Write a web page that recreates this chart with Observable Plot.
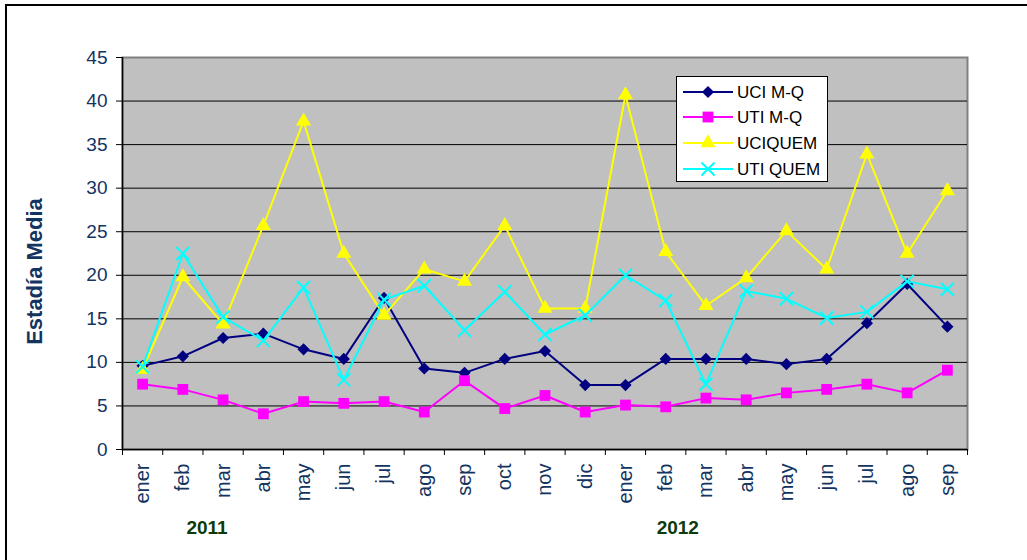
<!DOCTYPE html>
<html><head><meta charset="utf-8">
<script src="https://cdn.jsdelivr.net/npm/d3@7"></script>
<script src="https://cdn.jsdelivr.net/npm/@observablehq/plot@0.6"></script>
<style>
body{margin:0;background:#fff;overflow:hidden;font-family:"Liberation Sans",Arial,sans-serif;}
#wrap{position:relative;width:1027px;height:560px;overflow:hidden;}
#border{position:absolute;left:5px;top:4px;width:1100px;height:700px;border-left:2px solid #000;border-top:2px solid #000;pointer-events:none;z-index:3}
#legend{position:absolute;left:676px;top:76px;width:150px;height:104px;background:#fff;border:1px solid #000;z-index:2}
#chart{position:absolute;left:0;top:0;}
</style></head><body>
<div id="wrap"><div id="border"></div><div id="chart"></div><div id="legend"></div></div>
<script>
// ---- data ----
const months = ["ener","feb","mar","abr","may","jun","jul","ago","sep","oct","nov","dic",
                "ener","feb","mar","abr","may","jun","jul","ago","sep"];
const years = ["2011", "2012"];
const seriesNames = ["UCI M-Q", "UTI M-Q", "UCIQUEM", "UTI QUEM"];
const uciMQ   = [9.6, 10.7, 12.8, 13.3, 11.5, 10.4, 17.4, 9.3, 8.8, 10.4, 11.3, 7.4, 7.4, 10.4, 10.4, 10.4, 9.8, 10.4, 14.5, 19.0, 14.1];
const utiMQ   = [7.5, 6.9, 5.7, 4.1, 5.5, 5.3, 5.5, 4.3, 7.9, 4.7, 6.2, 4.3, 5.1, 4.9, 5.9, 5.7, 6.5, 6.9, 7.5, 6.5, 9.1];
const uciQuem = [9.2, 19.8, 14.4, 25.7, 37.7, 22.5, 15.4, 20.7, 19.3, 25.7, 16.2, 16.2, 40.7, 22.7, 16.5, 19.7, 25.1, 20.7, 33.9, 22.5, 29.7];
const utiQuem = [9.5, 22.5, 15.2, 12.5, 18.6, 8.0, 17.2, 18.8, 13.7, 18.1, 13.2, 15.4, 20.0, 17.1, 7.5, 18.2, 17.3, 15.1, 15.8, 19.3, 18.4];
const yTicks = [0, 5, 10, 15, 20, 25, 30, 35, 40, 45];

// ---- styles ----
const styles = [
  {color: "#000080", symbol: "diamond2", r: 5.5, filled: true},
  {color: "#ff00ff", symbol: "square",   r: 6.1, filled: true},
  {color: "#ffff00", symbol: "triangle", r: 5.6, filled: true},
  {color: "#00ffff", symbol: "times",    r: 6.0, filled: false}
];
const values = [uciMQ, utiMQ, uciQuem, utiQuem];
const navyText = "#12345f";
const font = "'Liberation Sans', Arial, sans-serif";
const yearX = [1.6, 13.3];

const idx = months.map((_, i) => i);
const bounds = d3.range(-0.5, months.length, 1);

const marks = [
  Plot.frame({fill: "#c0c0c0", stroke: "#808080", strokeWidth: 2}),
  Plot.ruleY(yTicks.filter(d => d > 0 && d < 45), {stroke: "#000", strokeWidth: 1})
];
values.forEach((vals, s) => {
  const data = vals.map((v, i) => ({i, v}));
  const st = styles[s];
  marks.push(Plot.line(data, {x: "i", y: "v", stroke: st.color, strokeWidth: 2}));
  marks.push(Plot.dot(data, st.filled
    ? {x: "i", y: "v", symbol: () => st.symbol, r: st.r, fill: st.color, stroke: "none"}
    : {x: "i", y: "v", symbol: () => st.symbol, r: st.r, fill: "none", stroke: st.color, strokeWidth: 2}));
});
marks.push(
  Plot.ruleY([0], {stroke: "#000", strokeWidth: 1.5}),
  Plot.ruleX([-0.5], {stroke: "#000", strokeWidth: 1.5}),
  Plot.axisY(yTicks, {anchor: "left", tickSize: 6, tickPadding: 9, stroke: "#000", fill: navyText,
    fontSize: 19, fontFamily: font, label: null}),
  Plot.axisX(bounds, {anchor: "bottom", tickSize: 6, stroke: "#000", fill: "none", label: null}),
  Plot.axisX(idx, {anchor: "bottom", tickSize: 0, tickPadding: 14, tickRotate: -90,
    tickFormat: d => months[d], fill: navyText, fontSize: 20, fontFamily: font, label: null}),
  Plot.text(["Estadía Media"], {frameAnchor: "left", dx: -88, dy: 18, rotate: -90, textAnchor: "middle",
    fontSize: 22, fontWeight: "bold", fill: navyText, fontFamily: font}),
  Plot.text(years, {x: (d, i) => yearX[i], frameAnchor: "bottom", dy: 84, fontSize: 19, fontWeight: "bold",
    fill: "#0b3a0b", fontFamily: font})
);

const chart = Plot.plot({
  width: 1027, height: 560,
  marginLeft: 122, marginRight: 60, marginTop: 57, marginBottom: 111,
  x: {type: "linear", domain: [-0.5, months.length - 0.5], axis: null},
  y: {type: "linear", domain: [0, 45], axis: null},
  style: {fontFamily: font, background: "transparent", overflow: "visible"},
  marks
});
document.getElementById("chart").appendChild(chart);

// ---- legend ----
const lg = d3.select("#legend").append("svg").attr("width", 150).attr("height", 104)
  .style("display", "block");
const rowY = [15, 40, 66, 92];
const symMap = {diamond2: d3.symbolDiamond2, square: d3.symbolSquare, triangle: d3.symbolTriangle, times: d3.symbolTimes};
seriesNames.forEach((name, s) => {
  const st = styles[s];
  const g = lg.append("g").attr("transform", `translate(0,${rowY[s]})`);
  g.append("line").attr("x1", 6).attr("x2", 56).attr("y1", 0).attr("y2", 0)
    .attr("stroke", st.color).attr("stroke-width", 2);
  g.append("path").attr("transform", "translate(31,0)")
    .attr("d", d3.symbol(symMap[st.symbol], Math.PI * st.r * st.r)())
    .attr("fill", st.filled ? st.color : "none")
    .attr("stroke", st.filled ? "none" : st.color).attr("stroke-width", 2);
  g.append("text").attr("x", 60).attr("y", 0).attr("dy", "0.35em")
    .attr("font-family", font).attr("font-size", 17).attr("fill", "#000").text(name);
});
</script>
</body></html>
